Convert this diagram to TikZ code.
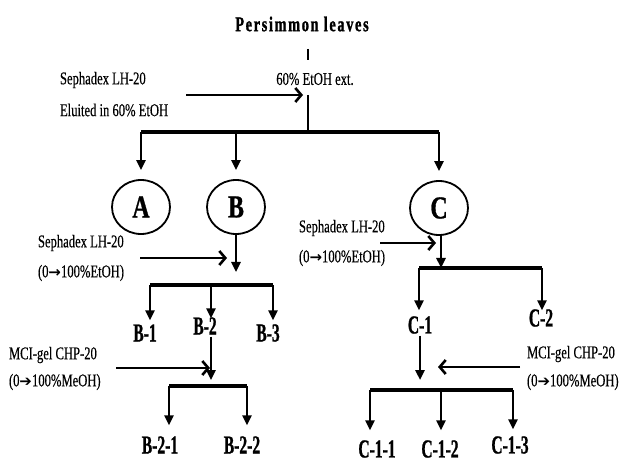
\documentclass[tikz,border=0pt]{standalone}
\usepackage{fontspec}
\setmainfont[FakeStretch=0.7,FakeBold=0.4]{Liberation Serif}
\newfontfamily\titlefont[FakeStretch=0.68,LetterSpace=8,FakeBold=1.2]{Liberation Serif Bold}
\newfontfamily\lblfont[FakeStretch=0.6,FakeBold=0.8]{Liberation Serif Bold}
\newfontfamily\fracfont[FakeStretch=0.75,FakeBold=0.8]{Liberation Serif Bold}
\newfontfamily\arrowfont{DejaVu Sans Bold}
\newfontfamily\heavyarrowfont{DejaVu Sans}
\usetikzlibrary{arrows.meta,shapes.geometric}
\newcommand{\thinarr}{{\arrowfont\fontsize{15}{17}\selectfont →}}
\newcommand{\fatarr}{{\heavyarrowfont\fontsize{15}{17}\selectfont ➔}}
\tikzset{every picture/.style={line width=2pt}}
\tikzset{
 ttl/.style={font=\titlefont\fontsize{21}{23}\selectfont},
 lbl/.style={font=\lblfont\fontsize{26}{28}\selectfont,inner sep=1pt},
 meth/.style={font=\fontsize{18}{20}\selectfont,anchor=west,inner sep=0pt},
 frac/.style={ellipse,draw,line width=1.8pt,minimum width=58pt,minimum height=54pt,
  inner sep=0pt,font=\fracfont\fontsize{32}{34}\selectfont},
 stem/.style={line width=2.4pt},
 bar/.style={line width=3.8pt},
 drop/.style={line width=2.4pt,-{Triangle[length=10pt,width=9pt]}},
 feed/.style={line width=2.6pt,-{Straight Barb[length=6pt,width=14pt]}}
}

\begin{document}
\begin{tikzpicture}[x=1pt,y=-1pt]
 \useasboundingbox (0,0) rectangle (626,462);
 % extract
 \node[ttl] (leaves) at (302,24) {Persimmon leaves};
 \coordinate (tk1) at (308,49);
 \coordinate (tk2) at (308,60);
 \draw[stem] (tk1) -- (tk2);
 \node[meth,anchor=center] (ext) at (315,79) {60\% EtOH ext.};
 \node[meth] (sepa) at (59,80) {Sephadex LH-20};
 \node[meth] (sepb) at (59,110) {Eluited in 60\% EtOH};
 \coordinate (j0) at (308,95);
 \coordinate (s0) at (186,95);
 \draw[feed,shorten >=5pt] (s0) -- (j0);
 \coordinate (bar0) at (308,132);
 \draw[stem] (j0) -- (bar0);
 % fractions
 \node[frac] (A) at (141,207) {A};
 \node[frac] (B) at (236,207) {B};
 \node[frac] (C) at (439,208) {C};
 \draw[bar] (A |- bar0) -- (C |- bar0);
 \foreach \f in {A,B,C}
  \draw[drop,shorten >=9pt] (\f |- bar0) -- (\f.north);
 % fraction B
 \node[meth] (sepBa) at (37,243) {Sephadex LH-20};
 \node[meth] (sepBb) at (37,273) {(0\thinarr100\%EtOH)};
 \coordinate (jB) at (236,258);
 \coordinate (sB) at (140,258);
 \draw[feed,shorten >=9pt] (sB) -- (jB);
 \coordinate (barB) at (236,285);
 \draw[drop,shorten >=13pt] (B.south) -- (barB);
 \node[lbl] (B1) at (145,333) {B-1};
 \node[lbl] (B2) at (205,326) {B-2};
 \node[lbl] (B3) at (268,333) {B-3};
 \coordinate (dB1) at (150,285);
 \coordinate (dB2) at (211,285);
 \coordinate (dB3) at (273,285);
 \draw[bar] (dB1) -- (dB3);
 \draw[drop,shorten >=2pt] (dB1) -- (dB1 |- B1.north);
 \draw[drop,shorten >=-3pt] (dB2) -- (dB2 |- B2.north);
 \draw[drop,shorten >=2pt] (dB3) -- (dB3 |- B3.north);
 % sub-fraction B-2
 \node[meth] (mciBa) at (8,355) {MCI-gel CHP-20};
 \node[meth] (mciBb) at (8,382) {(0\fatarr100\%MeOH)};
 \coordinate (sB2) at (116,368);
 \coordinate (jB2) at (211,368);
 \draw[feed,shorten >=1pt] (sB2) -- (jB2);
 \coordinate (barB2) at (211,386);
 \draw[drop,shorten >=6pt] (dB2 |- B2.south) -- (barB2);
 \node[lbl] (B21) at (160,445) {B-2-1};
 \node[lbl] (B22) at (242,445) {B-2-2};
 \coordinate (dB21) at (169,386);
 \coordinate (dB22) at (247,386);
 \draw[bar] (dB21) -- (dB22);
 \draw[drop,shorten >=9pt] (dB21) -- (dB21 |- B21.north);
 \draw[drop,shorten >=9pt] (dB22) -- (dB22 |- B22.north);
 % fraction C
 \node[meth] (sepCa) at (298,228) {Sephadex LH-20};
 \node[meth] (sepCb) at (298,258) {(0\thinarr100\%EtOH)};
 \coordinate (sC) at (380,243);
 \coordinate (jC) at (441,243);
 \draw[feed,shorten >=5pt] (sC) -- (jC);
 \coordinate (barC) at (441,268);
 \draw[drop] (C.south -| barC) -- (barC);
 \node[lbl] (C1) at (420,325) {C-1};
 \node[lbl] (C2) at (541,318) {C-2};
 \coordinate (dC1) at (419,268);
 \coordinate (dC2) at (542,268);
 \draw[bar] (dC1) -- (dC2);
 \draw[drop,shorten >=4pt] (dC1) -- (dC1 |- C1.north);
 \draw[drop,shorten >=-3pt] (dC2) -- (dC2 |- C2.north);
 % sub-fraction C-1
 \node[meth] (mciCa) at (526,354) {MCI-gel CHP-20};
 \node[meth] (mciCb) at (526,382) {(0\fatarr100\%MeOH)};
 \coordinate (sC1) at (520,367);
 \coordinate (jC1) at (438,367);
 \draw[feed] (sC1) -- (jC1);
 \coordinate (barC1) at (420,390);
 \draw[drop,shorten >=10pt] (C1.south) -- (barC1);
 \node[lbl] (C11) at (377,449) {C-1-1};
 \node[lbl] (C12) at (440,449) {C-1-2};
 \node[lbl] (C13) at (510,445) {C-1-3};
 \coordinate (dC11) at (370,390);
 \coordinate (dC12) at (441,390);
 \coordinate (dC13) at (513,390);
 \draw[bar] (dC11) -- (dC13);
 \draw[drop,shorten >=8pt] (dC11) -- (dC11 |- C11.north);
 \draw[drop,shorten >=8pt] (dC12) -- (dC12 |- C12.north);
 \draw[drop,shorten >=5pt] (dC13) -- (dC13 |- C13.north);
\end{tikzpicture}
\end{document}
